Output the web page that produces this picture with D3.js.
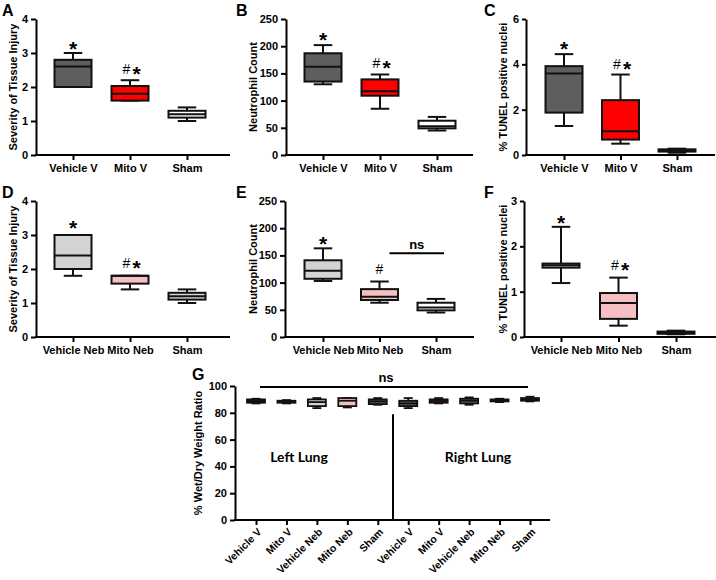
<!DOCTYPE html>
<html><head><meta charset="utf-8">
<script src="https://cdn.jsdelivr.net/npm/d3@7"></script>
<style>
body{margin:0;background:#fff}
svg text{font-family:Arial,"Liberation Sans",sans-serif;font-weight:bold;fill:#000}
</style>
</head><body>
<svg id="c" width="716" height="580"></svg>
<script>
// ---------------- DATA ----------------
const groupsV = ["Vehicle V", "Mito V", "Sham"];
const groupsNeb = ["Vehicle Neb", "Mito Neb", "Sham"];
// box statistics per group: [min, Q1, median, Q3, max]
const injuryV   = [[2.0, 2.0, 2.6, 2.8, 3.0], [1.6, 1.6, 1.8, 2.03, 2.2], [1.0, 1.1, 1.2, 1.3, 1.4]];
const neutroV   = [[130, 135, 162, 187, 202], [85, 109, 117, 139, 148], [45, 49, 53, 63, 70]];
const tunelV    = [[1.28, 1.87, 3.6, 3.92, 4.45], [0.5, 0.68, 1.05, 2.42, 3.55], [0.1, 0.15, 0.2, 0.25, 0.28]];
const injuryNeb = [[1.8, 2.0, 2.4, 3.0, 3.0], [1.4, 1.57, 1.8, 1.8, 1.8], [1.0, 1.1, 1.2, 1.3, 1.4]];
const neutroNeb = [[103, 107, 122, 141, 163], [63, 68, 74, 88, 102], [45, 49, 54, 63, 70]];
const tunelNeb  = [[1.19, 1.53, 1.58, 1.62, 2.43], [0.25, 0.4, 0.75, 0.97, 1.31], [0.06, 0.07, 0.1, 0.12, 0.14]];
const groupsG = ["Vehicle V", "Mito V", "Vehicle Neb", "Mito Neb", "Sham",
                 "Vehicle V", "Mito V", "Vehicle Neb", "Mito Neb", "Sham"];
const wetDry = [[87, 87.5, 89, 90, 90.5], [87, 87.5, 88.5, 89, 89.5], [83.5, 85, 88, 90, 91],
                [84, 85, 89, 91, 91], [86, 86.5, 88.5, 90, 91], [83.5, 85, 87, 89, 91],
                [87, 87.5, 89, 90, 91], [86, 87, 89, 90.5, 91.5], [88, 88.5, 89, 90, 90.5],
                [88.5, 89, 90, 91, 92]];
const ticksInjury = [0, 1, 2, 3, 4];
const ticksNeutro = [0, 50, 100, 150, 200, 250];
const ticksTunelV = [0, 2, 4, 6];
const ticksTunelNeb = [0, 1, 2, 3];
const ticksWetDry = [0, 20, 40, 60, 80, 100];
// significance marks: group index, text, value (vertical centre in data units)
const annA = [{g: 0, t: "*", v: 3.27}, {g: 1, t: "#*", v: 2.54}];
const annB = [{g: 0, t: "*", v: 220}, {g: 1, t: "#*", v: 169}];
const annC = [{g: 0, t: "*", v: 4.9}, {g: 1, t: "#*", v: 4.0}];
const annD = [{g: 0, t: "*", v: 3.35}, {g: 1, t: "#*", v: 2.17}];
const annE = [{g: 0, t: "*", v: 180}, {g: 1, t: "#", v: 125}];
const annF = [{g: 0, t: "*", v: 2.62}, {g: 1, t: "#*", v: 1.58}];
const nsE = {from: 1, to: 2, v: 154, t: "ns"};
const nsG = {from: 0, to: 9, v: 99.3, t: "ns"};
const dividerG = 79;

// ---------------- STYLES ----------------
const fillsA = ["#5e5e5e", "#ff0000", "#ffffff"];
const fillsC = ["#5e5e5e", "#ff0000", "#000000"];
const fillsD = ["#d3d3d3", "#f6bfc1", "#d6d6d6"];
const fillsE = ["#d3d3d3", "#f6bfc1", "#ffffff"];
const fillsF = ["#d3d3d3", "#f6bfc1", "#000000"];
const fillsG = ["#111111", "#111111", "#d3d3d3", "#f6bfc1", "#5e5e5e",
                "#5e5e5e", "#8c1414", "#6a6a6a", "#111111", "#5e5e5e"];

const svg = d3.select("#c");

function panel(o) {
  const g = svg.append("g");
  const y = d3.scaleLinear().domain(o.yDomain).range([o.yBottom, o.yTop]);
  const x = d3.scalePoint().domain(d3.range(o.groups.length)).range([o.xFirst, o.xLast]);

  // y axis
  const yg = g.append("g").attr("transform", `translate(${o.axisX},0)`)
    .call(d3.axisLeft(y).tickValues(o.ticks).tickSize(o.tickLen || 5).tickSizeOuter(0).tickFormat(d3.format("d")));
  yg.attr("font-family", null).attr("font-size", null);
  yg.select(".domain").attr("stroke", "#000").attr("stroke-width", 2);
  yg.selectAll(".tick line").attr("stroke", "#000").attr("stroke-width", 2);
  yg.selectAll(".tick text").style("font-size", o.tickFs + "px").attr("x", -((o.tickLen || 5) + 3));

  // x axis
  g.append("line").attr("x1", o.axisX - 1).attr("x2", o.xEnd)
    .attr("y1", o.yBottom).attr("y2", o.yBottom).attr("stroke", "#000").attr("stroke-width", 2);
  const xg = g.append("g").attr("transform", `translate(0,${o.yBottom})`)
    .call(d3.axisBottom(x).tickSize(5).tickFormat(i => o.groups[i]));
  xg.attr("font-family", null).attr("font-size", null);
  xg.select(".domain").remove();
  xg.selectAll(".tick line").attr("stroke", "#000").attr("stroke-width", 2);
  const xt = xg.selectAll(".tick text").style("font-size", o.xFs + "px");
  if (o.rotate) {
    xt.attr("text-anchor", "end").attr("x", 0).attr("y", 0).attr("dy", "0.35em")
      .attr("transform", "translate(3,10) rotate(-45)");
  } else {
    xt.attr("y", 9);
  }

  // y title
  g.append("text").attr("transform", `translate(${o.titleX},${(o.yTop + o.yBottom) / 2}) rotate(-90)`)
    .attr("text-anchor", "middle").attr("dy", "0.35em").style("font-size", o.titleFs + "px").text(o.title);

  // letter
  g.append("text").attr("x", o.letter[1]).attr("y", o.letter[2]).style("font-size", "16px").text(o.letter[0]);

  // boxes
  const bw = o.boxW;
  o.stats.forEach((s, i) => {
    const cx = x(i);
    const [mn, q1, md, q3, mx] = s;
    const stroke = "#111";
    const sw = o.sw;
    const b = g.append("g");
    b.append("line").attr("x1", cx).attr("x2", cx).attr("y1", y(mx)).attr("y2", y(q3)).attr("stroke", stroke).attr("stroke-width", sw);
    b.append("line").attr("x1", cx).attr("x2", cx).attr("y1", y(q1)).attr("y2", y(mn)).attr("stroke", stroke).attr("stroke-width", sw);
    b.append("line").attr("x1", cx - bw / 4).attr("x2", cx + bw / 4).attr("y1", y(mx)).attr("y2", y(mx)).attr("stroke", stroke).attr("stroke-width", sw);
    b.append("line").attr("x1", cx - bw / 4).attr("x2", cx + bw / 4).attr("y1", y(mn)).attr("y2", y(mn)).attr("stroke", stroke).attr("stroke-width", sw);
    b.append("rect").attr("x", cx - bw / 2).attr("width", bw).attr("y", y(q3)).attr("height", Math.max(0.5, y(q1) - y(q3)))
      .attr("fill", o.fills[i]).attr("stroke", stroke).attr("stroke-width", sw);
    b.append("line").attr("x1", cx - bw / 2).attr("x2", cx + bw / 2).attr("y1", y(md)).attr("y2", y(md)).attr("stroke", stroke).attr("stroke-width", sw);
  });

  // annotations ("#" and "*" drawn as separate glyphs, vertically centred on the value)
  (o.ann || []).forEach(a => {
    const chars = [...a.t];
    chars.forEach((ch, k) => {
      const dx = chars.length === 1 ? 0 : (k === 0 ? -3.5 : 6.5);
      const cy = y(a.v);
      if (ch === "*") {
        g.append("text").attr("x", x(a.g) + dx).attr("y", cy + 12).attr("text-anchor", "middle")
          .style("font-size", "21px").text(ch);
      } else {
        g.append("text").attr("x", x(a.g) + dx).attr("y", cy + 5).attr("text-anchor", "middle")
          .style("font-size", "14px").style("font-weight", "normal").text(ch);
      }
    });
  });
  return {g, x, y};
}

const rowTop = {yTop: 19, yBottom: 155};
const rowBot = {yTop: 201, yBottom: 337};
const common = {boxW: 37, sw: 2, tickFs: 11, xFs: 11, titleFs: 11};

panel(Object.assign({}, common, rowTop, {letter: ["A", 2, 16], groups: groupsV, stats: injuryV, fills: fillsA,
  yDomain: [0, 4], ticks: ticksInjury, title: "Severity of Tissue Injury", titleX: 13, axisX: 36, xEnd: 230,
  xFirst: 73, xLast: 187, ann: annA}));
panel(Object.assign({}, common, rowTop, {letter: ["B", 236, 16], groups: groupsV, stats: neutroV, fills: fillsA,
  yDomain: [0, 250], ticks: ticksNeutro, title: "Neutrophil Count", titleX: 253, axisX: 286, xEnd: 473,
  xFirst: 323, xLast: 437, ann: annB}));
panel(Object.assign({}, common, rowTop, {letter: ["C", 484, 16], groups: groupsV, stats: tunelV, fills: fillsC,
  yDomain: [0, 6], ticks: ticksTunelV, title: "% TUNEL positive nuclei", titleX: 503, axisX: 526, xEnd: 715,
  xFirst: 564, xLast: 677, ann: annC, tickLen: 4}));
panel(Object.assign({}, common, rowBot, {letter: ["D", 2, 198], groups: groupsNeb, stats: injuryNeb, fills: fillsD,
  yDomain: [0, 4], ticks: ticksInjury, title: "Severity of Tissue Injury", titleX: 13, axisX: 36, xEnd: 230,
  xFirst: 73, xLast: 187, ann: annD}));
const pE = panel(Object.assign({}, common, rowBot, {letter: ["E", 236, 198], groups: groupsNeb, stats: neutroNeb, fills: fillsE,
  yDomain: [0, 250], ticks: ticksNeutro, title: "Neutrophil Count", titleX: 253, axisX: 285, xEnd: 474,
  xFirst: 323, xLast: 436, ann: annE}));
panel(Object.assign({}, common, rowBot, {letter: ["F", 484, 198], groups: groupsNeb, stats: tunelNeb, fills: fillsF,
  yDomain: [0, 3], ticks: ticksTunelNeb, title: "% TUNEL positive nuclei", titleX: 503, axisX: 524, xEnd: 716,
  xFirst: 561, xLast: 676, ann: annF, tickLen: 4}));

// E: ns bracket
pE.g.append("line").attr("x1", pE.x(nsE.from) + 10).attr("x2", pE.x(nsE.to) + 8)
  .attr("y1", pE.y(nsE.v)).attr("y2", pE.y(nsE.v)).attr("stroke", "#000").attr("stroke-width", 2);
pE.g.append("text").attr("x", (pE.x(nsE.from) + pE.x(nsE.to)) / 2 + 9).attr("y", pE.y(nsE.v) - 4)
  .attr("text-anchor", "middle").style("font-size", "13px").text(nsE.t);

// G
const pG = panel({letter: ["G", 192, 380], groups: groupsG, stats: wetDry, fills: fillsG,
  yDomain: [0, 100], ticks: ticksWetDry, title: "% Wet/Dry Weight Ratio", titleX: 198,
  axisX: 235, xEnd: 550, yTop: 386, yBottom: 520, xFirst: 256, xLast: 530,
  boxW: 18, sw: 1.8, tickFs: 11, xFs: 10.5, titleFs: 11, rotate: true});
pG.g.append("line").attr("x1", pG.x(nsG.from) + 4).attr("x2", pG.x(nsG.to) - 2)
  .attr("y1", pG.y(nsG.v)).attr("y2", pG.y(nsG.v)).attr("stroke", "#000").attr("stroke-width", 2);
pG.g.append("text").attr("x", 386).attr("y", 382).attr("text-anchor", "middle").style("font-size", "13px").text(nsG.t);
const divX = (pG.x(4) + pG.x(5)) / 2;
pG.g.append("line").attr("x1", divX).attr("x2", divX).attr("y1", pG.y(dividerG)).attr("y2", pG.y(0))
  .attr("stroke", "#000").attr("stroke-width", 2);
pG.g.append("text").attr("x", 299).attr("y", 462).attr("text-anchor", "middle")
  .style("font-family", "Lato, 'Open Sans', sans-serif").style("font-size", "14px").style("font-weight", "bold").text("Left Lung");
pG.g.append("text").attr("x", 478).attr("y", 462).attr("text-anchor", "middle")
  .style("font-family", "Lato, 'Open Sans', sans-serif").style("font-size", "14px").style("font-weight", "bold").text("Right Lung");
</script>
</body></html>
